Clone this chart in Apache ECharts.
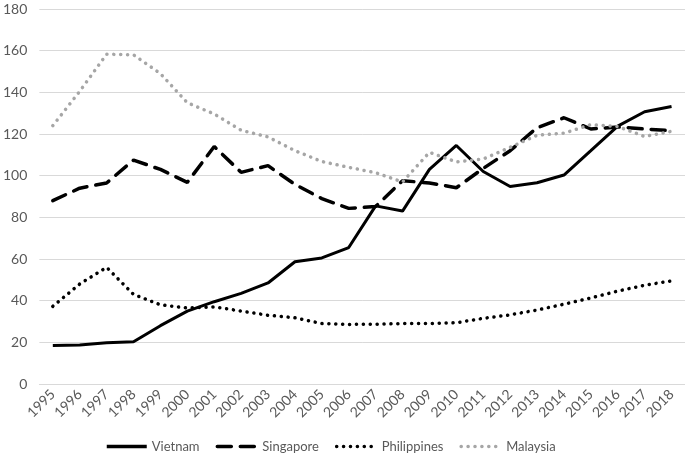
<!DOCTYPE html>
<html><head><meta charset="utf-8">
<script src="https://cdn.jsdelivr.net/npm/echarts@6/dist/echarts.min.js"></script>
<style>html,body{margin:0;padding:0;background:#fff}#c{width:685px;height:464px}</style>
</head><body><div id="c"></div>
<script>
const years = ['1995','1996','1997','1998','1999','2000','2001','2002','2003','2004','2005','2006','2007','2008','2009','2010','2011','2012','2013','2014','2015','2016','2017','2018'];
const vietnam = [18.5,18.7,19.8,20.3,28,35,39.5,43.5,48.5,58.7,60.5,65.5,85.5,83,103,114.5,102,94.8,96.6,100.3,112,123.8,130.7,133.2];
const singapore = [88,94,96.5,107.5,103,96.8,114,101.6,104.8,95.8,89,84.3,85.2,97.6,96.5,94.2,103.5,112,123,127.8,122.4,123.4,122.4,121.6];
const philippines = [37.3,48,56,43,38,36.5,37,35,33,31.8,29,28.6,28.7,29,29,29.4,31.5,33.2,35.5,38.3,41.3,44.6,47.4,49.5];
const malaysia = [124,140.5,158.3,158,149,135,129.6,121.8,118.6,112,106.8,104,101.4,97,111.2,106.6,108,113.6,119.4,120.4,124.5,123.6,118.8,121.3];
const yTicks = {min:0, max:180, interval:20};

const chart = echarts.init(document.getElementById('c'));
const font = 'Lato, "Open Sans", sans-serif';
function ser(name, data, style){
  return {name, type:'line', data, showSymbol:false, symbol:'none', color:style.color,
    itemStyle:{color:style.color}, lineStyle:style, emphasis:{disabled:true}, z: 2};
}
chart.setOption({
  animation:false,
  grid:{left:37, right:0, top:9, bottom:80, containLabel:false},
  legend:{
    bottom:6, left:100, itemWidth:40, itemHeight:10, itemGap:16,
    itemStyle:{opacity:0},
    lineStyle:{width:3.5},
    textStyle:{color:'#595959', fontSize:13, fontFamily:font},
    data:['Vietnam','Singapore','Philippines','Malaysia']
  },
  xAxis:{
    type:'category', data:years, boundaryGap:true,
    axisLine:{show:true, lineStyle:{color:'#d9d9d9'}},
    axisTick:{show:false},
    axisLabel:{rotate:45, interval:0, color:'#595959', fontSize:14, fontFamily:font, margin:8}
  },
  yAxis:{
    type:'value', min:yTicks.min, max:yTicks.max, interval:yTicks.interval,
    axisLine:{show:false}, axisTick:{show:false},
    splitLine:{lineStyle:{color:'#d9d9d9', width:1}},
    axisLabel:{color:'#595959', fontSize:14, fontFamily:font, margin:12}
  },
  series:[
    ser('Vietnam', vietnam, {color:'#000', width:3, type:'solid'}),
    ser('Singapore', singapore, {color:'#000', width:3.5, type:[14,9], cap:'round'}),
    ser('Philippines', philippines, {color:'#000', width:3.5, type:[0.1,6.8], cap:'round'}),
    ser('Malaysia', malaysia, {color:'#a6a6a6', width:3.5, type:[0.1,6.8], cap:'round'})
  ]
});
</script></body></html>
